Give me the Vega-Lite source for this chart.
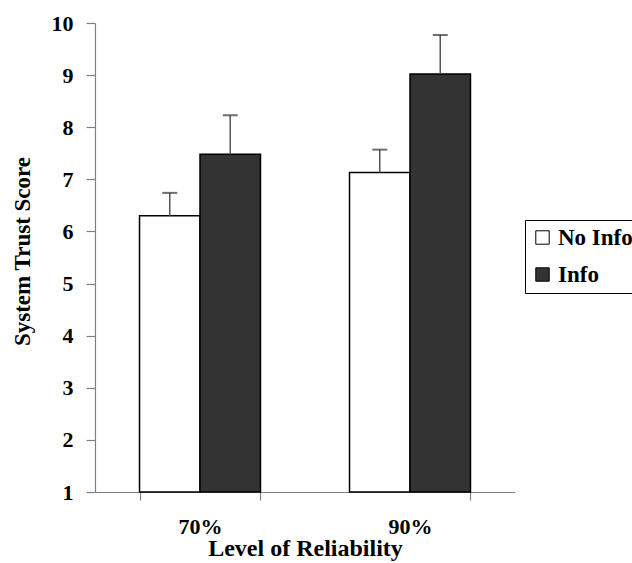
{
  "$schema": "https://vega.github.io/schema/vega-lite/v6.json",
  "width": 420,
  "height": 469,
  "autosize": {"type": "none"},
  "padding": {"left": 95, "top": 23, "right": 117, "bottom": 71},
  "background": "white",
  "config": {
    "view": {"stroke": null},
    "font": "Liberation Serif",
    "axis": {
      "domainColor": "#808080",
      "tickColor": "#808080",
      "domainWidth": 1.2,
      "tickWidth": 1.2,
      "labelFont": "Liberation Serif",
      "labelFontWeight": "bold",
      "labelColor": "black",
      "titleFont": "Liberation Serif",
      "titleFontWeight": "bold",
      "titleColor": "black",
      "grid": false
    }
  },
  "data": {
    "values": [
      {"level": "70%", "cond": "No Info", "mean": 6.30, "upper": 6.74},
      {"level": "70%", "cond": "Info", "mean": 7.48, "upper": 8.23},
      {"level": "90%", "cond": "No Info", "mean": 7.13, "upper": 7.57},
      {"level": "90%", "cond": "Info", "mean": 9.02, "upper": 9.77}
    ]
  },
  "encoding": {
    "x": {
      "field": "level",
      "type": "nominal",
      "scale": {"paddingInner": 0.424, "paddingOuter": 0.212},
      "axis": {
        "title": "Level of Reliability",
        "labelAngle": 0,
        "labelFontSize": 22,
        "titleFontSize": 24,
        "tickBand": "extent",
        "tickSize": 8,
        "labelPadding": 16,
        "titlePadding": -1
      }
    },
    "xOffset": {
      "field": "cond",
      "type": "nominal",
      "sort": ["No Info", "Info"],
      "scale": {"paddingInner": 0, "paddingOuter": 0}
    }
  },
  "layer": [
    {
      "mark": {"type": "bar", "stroke": "black", "strokeWidth": 1.5},
      "encoding": {
        "y": {
          "field": "mean",
          "type": "quantitative",
          "scale": {"domain": [1, 10], "nice": false, "zero": false},
          "axis": {
            "title": "System Trust Score",
            "values": [1, 2, 3, 4, 5, 6, 7, 8, 9, 10],
            "labelFontSize": 22,
            "titleFontSize": 23,
            "tickSize": 9,
            "labelPadding": 13,
            "titlePadding": 17,
            "titleY": 228
          }
        },
        "y2": {"datum": 1},
        "fill": {
          "field": "cond",
          "type": "nominal",
          "sort": ["No Info", "Info"],
          "scale": {"domain": ["No Info", "Info"], "range": ["white", "#333333"]},
          "legend": {
            "title": null,
            "orient": "none",
            "legendX": 430,
            "legendY": 197,
            "strokeColor": "black",
            "padding": 6,
            "symbolType": "square",
            "symbolSize": 180,
            "symbolStrokeColor": "black",
            "symbolStrokeWidth": 1,
            "labelFont": "Liberation Serif",
            "labelFontSize": 23,
            "labelFontWeight": "bold",
            "labelColor": "black",
            "rowPadding": 13,
            "labelOffset": 4
          }
        }
      }
    },
    {
      "mark": {"type": "rule", "color": "#555555", "strokeWidth": 1.5},
      "encoding": {
        "y": {"field": "mean", "type": "quantitative"},
        "y2": {"field": "upper"}
      }
    },
    {
      "mark": {"type": "tick", "color": "#333333", "thickness": 2, "size": 15},
      "encoding": {
        "y": {"field": "upper", "type": "quantitative"}
      }
    }
  ]
}
